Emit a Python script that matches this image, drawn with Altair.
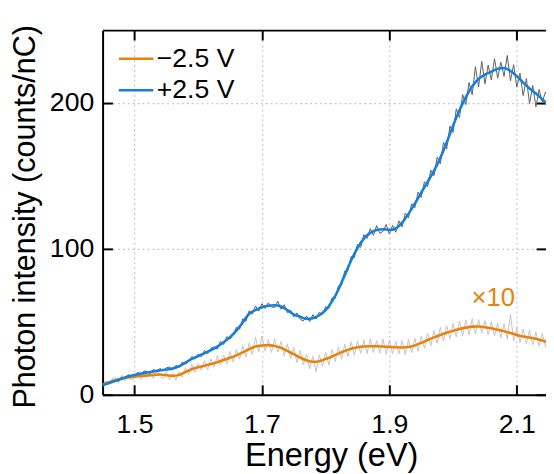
import altair as alt
import pandas as pd

# ---------------- data ----------------
E_SMOOTH = [round(1.45 + 0.01 * i, 3) for i in range(71)]
E_RAW = [round(1.45 + 0.005 * i, 3) for i in range(141)]

blue_smooth = [
    6.5, 8, 9.5, 11, 12.5, 13.5, 14.5, 15.3, 16, 16.7,
    17.3, 18, 19.5, 22, 24.5, 26.5, 28.5, 30.5, 33, 36,
    39.5, 44, 49.5, 55.5, 58, 60, 61, 61.3, 60.5, 58,
    55, 53.5, 52, 52.5, 54.5, 58, 64, 72, 82, 92,
    100.5, 107, 111, 113, 113.5, 113, 114, 118, 124, 131,
    138.5, 146, 153.5, 162.5, 173, 184.5, 195, 204, 211.5, 216.5,
    219.5, 221.5, 223.5, 224, 222, 218.5, 214, 210, 206.5, 202.5,
    198.5,
]

orange_smooth = [
    7, 8.5, 10, 11, 11.8, 12.3, 12.8, 13.2, 13.6, 13.8,
    13.4, 12.9, 13.6, 15.6, 17.5, 18.8, 19.8, 21, 22.3, 23.8,
    25.3, 27, 29, 31.3, 33, 33.8, 34, 33.4, 32.2, 30,
    27.8, 25.5, 23.6, 22.6, 23, 24.5, 26.2, 28.2, 30, 31.5,
    32.5, 33, 33.2, 33.2, 33, 32.8, 32.5, 32.4, 32.7, 33.8,
    35.5, 37.5, 39.3, 41, 42.5, 43.8, 45, 46, 46.7, 46.8,
    46.3, 45.5, 44.5, 43.5, 42.3, 41, 40, 39.2, 38.4, 37.2,
    35.8,
]

blue_raw = [
    5.9, 8.0, 7.4, 9.9, 9.8, 9.1, 12.2, 11.0, 13.6, 12.1,
    12.9, 15.4, 13.7, 16.3, 15.9, 14.6, 17.4, 15.5, 18.1, 16.2,
    18.5, 18.9, 16.9, 20.2, 18.6, 22.4, 21.0, 23.0, 26.3, 24.4,
    27.9, 26.1, 30.4, 28.2, 31.9, 32.8, 31.2, 36.6, 34.5, 39.9,
    38.0, 41.2, 46.3, 45.0, 52.1, 50.4, 57.6, 55.2, 60.9, 57.3,
    62.4, 59.1, 63.0, 60.2, 59.8, 64.1, 58.6, 61.7, 56.2, 58.0,
    53.4, 56.1, 51.8, 50.6, 54.0, 50.1, 54.9, 51.9, 56.6, 55.0,
    60.3, 59.2, 66.4, 66.1, 74.6, 75.0, 84.8, 85.1, 94.9, 94.0,
    103.2, 101.0, 109.8, 107.2, 113.9, 109.3, 116.0, 110.6, 112.0, 116.7,
    110.2, 116.1, 111.4, 119.2, 115.1, 124.6, 121.3, 131.0, 128.2, 138.9,
    135.3, 146.1, 142.6, 154.0, 150.2, 162.9, 158.4, 173.0, 168.6, 184.2,
    179.9, 196.0, 190.1, 205.8, 198.9, 214.1, 205.7, 224.9, 211.0, 228.6,
    213.2, 226.0, 215.9, 230.4, 217.1, 228.0, 218.3, 232.6, 215.2, 226.3,
    210.9, 220.5, 205.1, 216.8, 199.6, 212.1, 197.4, 209.3, 200.8, 207.6,
    203.5,
]

orange_raw = [
    6.2, 9.6, 7.0, 10.8, 11.9, 8.3, 13.4, 9.2, 14.1, 10.1,
    11.2, 15.6, 10.4, 16.2, 12.0, 15.1, 10.8, 17.3, 12.4, 11.1,
    16.0, 10.2, 14.9, 10.0, 15.8, 12.1, 18.6, 13.9, 20.7, 15.2,
    21.4, 16.8, 23.5, 17.1, 24.6, 18.9, 26.8, 20.2, 27.1, 21.0,
    29.7, 22.5, 31.2, 24.4, 33.8, 26.0, 35.5, 27.6, 39.4, 29.3,
    40.2, 30.1, 37.8, 28.9, 38.5, 29.2, 36.6, 26.4, 34.9, 24.8,
    32.4, 22.1, 30.3, 20.6, 27.9, 17.8, 26.4, 15.6, 27.3, 19.5,
    29.1, 20.4, 30.8, 22.6, 32.9, 24.3, 34.6, 26.2, 36.3, 27.1,
    37.0, 28.4, 37.6, 28.2, 38.3, 29.0, 37.1, 28.5, 38.2, 27.7,
    37.5, 27.9, 36.8, 28.1, 37.2, 27.6, 37.9, 28.8, 38.6, 30.0,
    40.1, 31.9, 42.4, 33.5, 44.0, 35.3, 46.2, 36.8, 47.1, 38.4,
    48.9, 39.5, 50.6, 40.2, 51.3, 41.0, 52.1, 41.6, 51.5, 42.3,
    50.8, 41.1, 50.2, 40.3, 49.0, 39.2, 48.6, 38.1, 55.2, 37.0,
    45.9, 35.8, 45.0, 34.9, 44.1, 34.2, 43.0, 33.5, 42.2, 32.4,
    40.1,
]

SERIES = ["\u22122.5 V", "+2.5 V"]
X_TICKS = [1.5, 1.7, 1.9, 2.1]
Y_TICKS = [0, 100, 200]
ANNOT_E = [2.063]
ANNOT_I = [60.6]
ANNOT_TXT = ["\u00d710"]

# ---------------- styling ----------------
ORANGE = "#E8820C"
BLUE = "#1480DC"
DARK_GREY = "#5f5f5f"
LIGHT_GREY = "#c4c4c4"
FONT = "Liberation Sans"

smooth_df = pd.DataFrame({
    "E": E_SMOOTH + E_SMOOTH,
    "I": orange_smooth + blue_smooth,
    "series": [SERIES[0]] * len(E_SMOOTH) + [SERIES[1]] * len(E_SMOOTH),
})
raw_df = pd.DataFrame({"E": E_RAW, "neg": orange_raw, "pos": blue_raw})
annot_df = pd.DataFrame({"E": ANNOT_E, "I": ANNOT_I, "txt": ANNOT_TXT})

x_scale = alt.Scale(domain=[1.45, 2.1458], nice=False, zero=False)
y_scale = alt.Scale(domain=[0, 250], nice=False, zero=False)
INWARD = {"expr": "-10"}

x_axis_main = alt.Axis(
    values=X_TICKS, format=".1f", title="Energy (eV)",
    grid=True, gridColor="#c8c8c8", gridDash=[2, 3], gridWidth=1.2,
    domainColor="black", domainWidth=2, tickColor="black", tickWidth=2,
    tickSize=INWARD, labelPadding=27, labelFlush=False,
    labelFont=FONT, labelFontSize=27, labelColor="black",
    titleFont=FONT, titleFontSize=33, titleFontWeight="normal", titleColor="black",
    titleX=232, titleY=72, titleBaseline="alphabetic", titleAlign="center",
)
y_axis_main = alt.Axis(
    values=Y_TICKS, title="Photon intensity (counts/nC)",
    grid=True, gridColor="#c8c8c8", gridDash=[2, 3], gridWidth=1.2,
    domainColor="black", domainWidth=2, tickColor="black", tickWidth=2,
    tickSize=INWARD, labelPadding=19, labelFlush=False,
    labelFont=FONT, labelFontSize=27, labelColor="black",
    titleFont=FONT, titleFontSize=31, titleFontWeight="normal", titleColor="black",
    titleX=-69, titleY=189, titleBaseline="alphabetic", titleAlign="center", titleAngle=270,
)
x_axis_top = alt.Axis(
    orient="top", values=X_TICKS, labels=False, title=None, grid=False,
    domainColor="black", domainWidth=2, tickColor="black", tickWidth=2, tickSize=INWARD,
)
y_axis_right = alt.Axis(
    orient="right", values=Y_TICKS, labels=False, title=None, grid=False,
    domain=False, tickColor="black", tickWidth=2, tickSize=INWARD,
)

raw_neg = alt.Chart(raw_df).mark_line(color=LIGHT_GREY, strokeWidth=1, clip=True).encode(
    x=alt.X("E:Q", scale=x_scale, axis=x_axis_main),
    y=alt.Y("neg:Q", scale=y_scale, axis=y_axis_main),
)
raw_pos = alt.Chart(raw_df).mark_line(color=DARK_GREY, strokeWidth=1, clip=True).encode(
    x=alt.X("E:Q", scale=x_scale, axis=None),
    y=alt.Y("pos:Q", scale=y_scale, axis=None),
)
smooth = alt.Chart(smooth_df).mark_line(strokeWidth=2.6, clip=True, interpolate="monotone").encode(
    x=alt.X("E:Q", scale=x_scale, axis=None),
    y=alt.Y("I:Q", scale=y_scale, axis=None),
    color=alt.Color(
        "series:N",
        scale=alt.Scale(domain=SERIES, range=[ORANGE, BLUE]),
        legend=alt.Legend(
            orient="none", legendX=15, legendY=10, title=None,
            symbolType="stroke", symbolSize=1225, symbolStrokeWidth=2.5,
            labelFont=FONT, labelFontSize=27, labelColor="black", labelOffset=2,
            rowPadding=-7, padding=0,
        ),
    ),
)
annot = alt.Chart(annot_df).mark_text(
    font=FONT, fontSize=26, color=ORANGE, baseline="alphabetic", align="center"
).encode(
    x=alt.X("E:Q", scale=x_scale, axis=None),
    y=alt.Y("I:Q", scale=y_scale, axis=None),
    text="txt:N",
)
mirror = alt.Chart(raw_df).mark_point(opacity=0).encode(
    x=alt.X("E:Q", scale=x_scale, axis=x_axis_top),
    y=alt.Y("pos:Q", scale=y_scale, axis=y_axis_right),
)

chart = (
    alt.layer(raw_neg, raw_pos, smooth, annot, mirror)
    .resolve_axis(x="independent", y="independent")
    .properties(
        width=450, height=370,
        padding={"left": 96, "top": 19, "right": 0, "bottom": 77},
        autosize=alt.AutoSizeParams(type="none"),
        background="white",
    )
    .configure_view(stroke=None)
)

chart.save("out.html", embed_options={"renderer": "svg", "actions": False})
